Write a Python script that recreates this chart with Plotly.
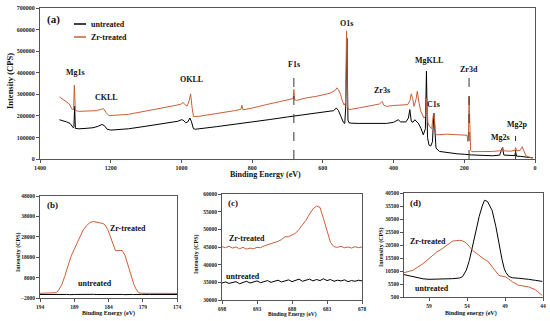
import plotly.graph_objects as go

# ---------------- data ----------------
# (a) survey spectra
survey_untreated_E = [1345, 1335, 1325, 1315, 1310, 1306, 1304, 1302, 1300, 1290, 1270, 1250, 1235, 1225, 1218,
                      1210, 1200, 1150, 1100, 1050, 1010, 1000, 995, 988, 982, 976, 972, 966, 960, 900, 850, 800,
                      750, 700, 650, 600, 570, 562, 556, 549, 542, 538, 535, 532, 529, 526, 520, 500, 450, 420, 400,
                      387, 380, 365, 358, 354, 350, 345, 340, 335, 330, 322, 316, 310, 307, 304, 300, 295, 290, 286,
                      283, 280, 270, 250, 230, 220, 200, 190, 180, 150, 120, 100, 92, 88, 70, 57, 55, 52, 40, 20, 6]
survey_untreated_I = [182000, 178000, 172000, 165000, 155000, 145000, 150000, 245000, 142000, 140000, 142000,
                      145000, 152000, 160000, 155000, 138000, 134000, 140000, 152000, 163000, 175000, 182000,
                      180000, 168000, 172000, 190000, 175000, 140000, 138000, 150000, 160000, 170000, 183000,
                      195000, 205000, 215000, 224000, 236000, 225000, 198000, 170000, 165000, 250000, 560000,
                      180000, 168000, 166000, 165000, 163000, 165000, 170000, 182000, 172000, 172000, 190000,
                      229000, 175000, 170000, 182000, 175000, 166000, 140000, 112000, 140000, 407000, 100000,
                      65000, 60000, 80000, 213000, 90000, 50000, 35000, 30000, 28000, 24000, 22000, 20000, 19000,
                      17000, 15000, 18000, 53000, 18000, 15000, 16000, 34000, 13000, 12000, 8000, 5000]

survey_zr_E = [1345, 1335, 1325, 1317, 1310, 1305, 1303, 1300, 1290, 1260, 1240, 1228, 1220, 1213, 1205, 1150,
               1100, 1050, 1015, 1000, 996, 990, 984, 978, 974, 970, 966, 950, 920, 880, 850, 832, 829, 826, 800,
               760, 720, 690, 684, 682, 680, 674, 650, 617, 580, 565, 560, 556, 550, 545, 540, 536, 533, 530, 526,
               500, 470, 440, 435, 432, 428, 420, 400, 380, 360, 354, 350, 346, 342, 336, 333, 328, 323, 314, 309,
               306, 303, 298, 292, 287, 285, 282, 278, 250, 220, 200, 192, 190, 188, 186.5, 185, 182, 179, 150, 120,
               100, 93, 91, 89, 70, 57, 55, 52, 42, 36, 32, 26, 15, 6]
survey_zr_I = [288000, 275000, 265000, 255000, 232000, 228000, 342000, 225000, 221000, 222000, 224000, 230000,
               233000, 215000, 201000, 207000, 222000, 236000, 249000, 255000, 263000, 252000, 245000, 270000,
               302000, 240000, 197000, 198000, 205000, 215000, 224000, 230000, 249000, 228000, 236000, 252000,
               265000, 275000, 280000, 322000, 275000, 272000, 282000, 291000, 305000, 318000, 330000, 322000,
               300000, 270000, 250000, 260000, 594000, 240000, 229000, 236000, 244000, 255000, 262000, 267000,
               250000, 244000, 248000, 250000, 252000, 270000, 302000, 280000, 244000, 280000, 314000, 260000,
               221000, 190000, 200000, 280000, 170000, 150000, 140000, 213000, 205000, 120000, 112000, 115000,
               114000, 112000, 110000, 81000, 130000, 290000, 150000, 40000, 34000, 33000, 35000, 38000, 40000,
               53000, 38000, 36000, 40000, 53000, 38000, 40000, 57000, 40000, 15000, 8000, 5000]

# (b) Zr3d region
zr3d_E = [194, 193, 192, 191.6, 191.2, 190.8, 190.4, 190.1, 189.7, 189.4, 189.0, 188.6, 188.2, 187.7, 187.2,
          186.7, 186.2, 185.7, 185.2, 184.8, 184.5, 184.1, 183.8, 183.4, 183.0, 182.5, 182.0, 181.6, 181.2,
          180.8, 180.5, 180.3, 180.0, 179.6, 179.2, 178, 176, 174]
zr3d_treated = [300, 350, 300, 600, 2300, 4700, 8500, 12200, 16000, 19000, 22000, 24700, 27800, 31300, 33500,
                35000, 35500, 35100, 34900, 34500, 33800, 31500, 28800, 24500, 21300, 21300, 21300, 19000, 14500,
                10500, 6800, 4700, 2500, 600, 300, 250, 300, 250]
zr3d_untreated = [-300, -200, -350, -250, -300, -200, -300, -250, -350, -200, -300, -250, -200, -300, -250,
                  -350, -200, -300, -250, -300, -200, -350, -250, -300, -200, -300, -250, -350, -200, -300,
                  -250, -300, -200, -300, -250, -300, -200, -300]

# (c) F1s region
f1s_E = [698, 697.5, 697, 696.5, 696, 695.5, 695, 694.5, 694, 693.5, 693, 692.5, 692, 691.5, 691, 690.5, 690,
         689.5, 689, 688.5, 688, 687.5, 687, 686.5, 686, 685.5, 685, 684.5, 684, 683.5, 683, 682.5, 682, 681.5,
         681, 680.5, 680, 679.5, 679, 678.5, 678]
f1s_treated = [45100, 44800, 45200, 44700, 45000, 44500, 44900, 44400, 44700, 44500, 44900, 44800, 45300,
               45600, 45900, 46200, 46600, 47100, 47900, 47900, 48300, 48900, 50000, 51300, 52600, 54300, 55800,
               56600, 56200, 53000, 49300, 46300, 45100, 44900, 45200, 44800, 45000, 44700, 45100, 44800, 45000]
f1s_untreated = [34800, 35100, 34700, 35000, 35200, 34600, 35000, 35300, 34800, 35100, 35400, 34900, 35200,
                 35500, 35000, 35300, 35600, 35100, 35400, 35700, 35200, 35500, 35900, 35300, 35600, 35900, 35400,
                 35800, 35500, 36000, 35500, 35800, 35300, 35600, 35400, 35700, 35200, 35500, 35300, 35600, 35400]

# (d) Mg2p region
mg2p_E = [62.3, 61.6, 61.1, 60.7, 59.8, 59.0, 58.0, 57.4, 56.7, 55.9, 55.0, 54.6, 54.1, 53.7, 53.3, 52.8, 52.4,
          52.0, 51.7, 51.3, 50.7, 50.2, 49.8, 49.4, 49.1, 48.9, 48.5, 48.0, 47.2, 46.3, 45.9, 45.0, 44.1]
mg2p_untreated = [9100, 8600, 8200, 7900, 7500, 7300, 7300, 7400, 7500, 7550, 7800, 8300, 10800, 14500, 19700,
                  26500, 31500, 35500, 37700, 37200, 33800, 27500, 21000, 15000, 11400, 10000, 8400, 7900, 7700,
                  7550, 7300, 6900, 6500]
mg2p_treated = [9860, 10300, 10800, 11600, 13300, 15300, 17800, 18800, 20400, 22000, 22300, 22100, 21300,
                20000, 18500, 17400, 16500, 15700, 14900, 14400, 12100, 10500, 8800, 8500, 8300, 8200, 7400,
                6300, 5000, 4500, 4400, 3300, 1100]

# peak labels for the survey: (text, energy, intensity at label centre)
peak_labels = ["Mg1s", "CKLL", "OKLL", "F1s", "O1s", "Zr3s", "MgKLL", "C1s", "Zr3d", "Mg2s", "Mg2p"]
peak_label_E = [1301, 1212, 972, 682, 532, 432, 300, 288, 186.5, 98, 50]
peak_label_I = [400000, 285000, 368000, 440000, 630000, 317000, 458000, 252000, 413000, 98000, 158000]
dashed_E = [682, 186.5, 55]
dashed_top = [377000, 380000, 107000]

# ---------------- styling ----------------
BLACK = "#000000"
ORANGE = "#c8603a"
FONT = "Liberation Serif"
AX = "#555555"

fig = go.Figure()

def add_pair(xs, y_u, xs2, y_t, xa, ya):
    fig.add_trace(go.Scatter(x=xs, y=y_u, mode="lines", line=dict(color=BLACK, width=1),
                             name="untreated", xaxis=xa, yaxis=ya, showlegend=False))
    fig.add_trace(go.Scatter(x=xs2, y=y_t, mode="lines", line=dict(color=ORANGE, width=1),
                             name="Zr-treated", xaxis=xa, yaxis=ya, showlegend=False))

add_pair(survey_untreated_E, survey_untreated_I, survey_zr_E, survey_zr_I, "x", "y")
add_pair(zr3d_E, zr3d_untreated, zr3d_E, zr3d_treated, "x2", "y2")
add_pair(f1s_E, f1s_untreated, f1s_E, f1s_treated, "x3", "y3")
add_pair(mg2p_E, mg2p_untreated, mg2p_E, mg2p_treated, "x4", "y4")

W, H = 550, 321
def px(x):
    return x / W
def py(y):
    return 1 - y / H

def axis_common(size):
    return dict(showline=True, linecolor=AX, linewidth=1, mirror=True, ticks="outside", ticklen=3,
                tickcolor=AX, showgrid=False, zeroline=False, tickformat="d",
                tickfont=dict(family=FONT, size=size, color="#222", weight="bold"), automargin=False)

layout = dict(
    width=W, height=H, margin=dict(l=0, r=0, t=0, b=0),
    paper_bgcolor="white", plot_bgcolor="white", showlegend=False,
    xaxis=dict(domain=[px(40), px(535)], range=[1400, 0], tick0=0, dtick=200, anchor="y", **axis_common(6)),
    yaxis=dict(domain=[py(159), py(8)], range=[0, 700000], tick0=0, dtick=100000, anchor="x",
               **axis_common(6)),
    xaxis2=dict(domain=[px(40), px(177)], range=[194, 174], tick0=174, dtick=5, anchor="y2", **axis_common(5.5)),
    yaxis2=dict(domain=[py(298), py(196)], range=[-2000, 48000], tick0=-2000, dtick=10000, anchor="x2",
                **axis_common(5.5)),
    xaxis3=dict(domain=[px(222), px(362)], range=[698, 678], tick0=678, dtick=5, anchor="y3", **axis_common(5.5)),
    yaxis3=dict(domain=[py(300), py(194)], range=[30000, 60000], tick0=30000, dtick=5000, anchor="x3",
                **axis_common(5.5)),
    xaxis4=dict(domain=[px(404), px(543)], range=[62.3, 44], tick0=44, dtick=5, anchor="y4", **axis_common(5.5)),
    yaxis4=dict(domain=[py(297), py(193)], range=[500, 40500], tick0=500, dtick=5000, anchor="x4",
                **axis_common(5.5)),
)
fig.update_layout(**layout)

ann = []
def bold(text, x, y, size, xref="paper", yref="paper", angle=0, xanchor="center"):
    ann.append(dict(text="<b>%s</b>" % text, x=x, y=y, xref=xref, yref=yref, showarrow=False,
                    textangle=angle, xanchor=xanchor, yanchor="middle",
                    font=dict(family=FONT, size=size, color="#111")))

# survey titles and labels
bold("Binding Energy (eV)", px(265), py(175), 8)
bold("Intensity (CPS)", px(10), py(81), 8.5, angle=-90)
bold("(a)", px(53), py(19), 11)
for t, e, v in zip(peak_labels, peak_label_E, peak_label_I):
    bold(t, e, v, 8, xref="x", yref="y")

# manual legend (a)
legend_items = ["untreated", "Zr-treated"]
legend_colors = [BLACK, ORANGE]
shapes = []
for i, (name, col) in enumerate(zip(legend_items, legend_colors)):
    yy = 24 + 13 * i
    shapes.append(dict(type="line", xref="paper", yref="paper", x0=px(74), x1=px(86), y0=py(yy), y1=py(yy),
                       line=dict(color=col, width=1.5)))
    bold(name, px(89), py(yy), 8, xanchor="left")

# dashed marker lines in survey
for e, top in zip(dashed_E, dashed_top):
    shapes.append(dict(type="line", xref="x", yref="y", x0=e, x1=e, y0=0, y1=top,
                       line=dict(color="#333", width=1, dash="dash")))

# (b)
bold("(b)", px(52), py(205), 9)
bold("Zr-treated", px(128), py(228), 8)
bold("untreated", px(95), py(283), 8)
bold("Binding Energy (eV)", px(108), py(313), 6)
bold("Intensity (CPS)", px(18), py(252), 6, angle=-90)
# (c)
bold("(c)", px(233), py(203), 9)
bold("Zr-treated", px(247), py(238), 8)
bold("untreated", px(243), py(276), 8)
bold("Binding Energy (eV)", px(292), py(314), 5.5)
bold("Intensity (CPS)", px(196), py(254), 6, angle=-90)
# (d)
bold("(d)", px(415), py(203), 9)
bold("Zr-treated", px(428), py(241), 8)
bold("untreated", px(432), py(288), 8)
bold("Binding energy (eV)", px(471), py(313), 6)
bold("Intensity (CPS)", px(381), py(247), 6, angle=-90)

fig.update_layout(annotations=ann, shapes=shapes)
fig.write_html("out.html", config={"displayModeBar": False},
               post_script="document.body.style.margin='0';document.body.style.padding='0';")
